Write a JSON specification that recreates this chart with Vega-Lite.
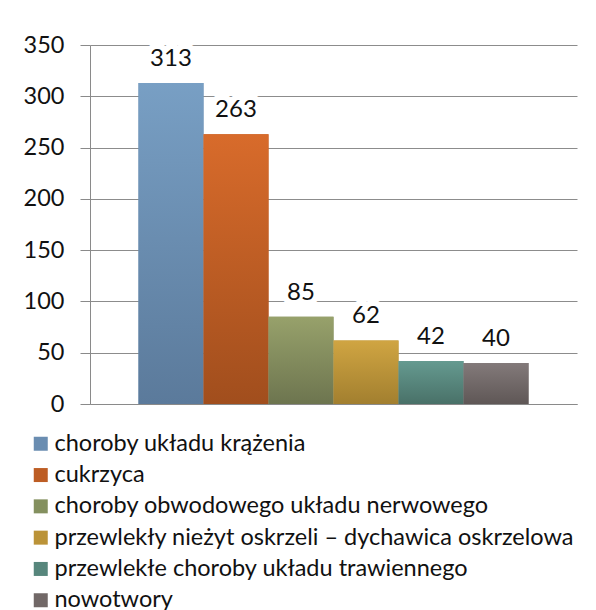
{
  "$schema": "https://vega.github.io/schema/vega-lite/v6.json",
  "width": 487,
  "height": 359,
  "autosize": {"type": "none"},
  "padding": {"left": 90, "top": 45, "right": 19, "bottom": 206},
  "background": "white",
  "config": {
    "view": {"stroke": null},
    "font": "Lato",
    "legend": {"padding": 0}
  },
  "data": {
    "values": [
      {"kategoria": "choroby układu krążenia", "wartosc": 313},
      {"kategoria": "cukrzyca", "wartosc": 263},
      {"kategoria": "choroby obwodowego układu nerwowego", "wartosc": 85},
      {"kategoria": "przewlekły nieżyt oskrzeli – dychawica oskrzelowa", "wartosc": 62},
      {"kategoria": "przewlekłe choroby układu trawiennego", "wartosc": 42},
      {"kategoria": "nowotwory", "wartosc": 40}
    ]
  },
  "encoding": {
    "x": {
      "field": "kategoria",
      "type": "nominal",
      "sort": null,
      "scale": {"paddingInner": 0, "paddingOuter": 0.746},
      "axis": {"labels": false, "ticks": false, "title": null, "domainColor": "#8a8a8a", "domainWidth": 1}
    },
    "y": {
      "field": "wartosc",
      "type": "quantitative",
      "scale": {"domain": [0, 350], "nice": false},
      "axis": {
        "values": [0, 50, 100, 150, 200, 250, 300, 350],
        "title": null,
        "grid": true,
        "gridColor": "#8c8c8c",
        "gridWidth": 1,
        "domainColor": "#8a8a8a",
        "tickColor": "#8a8a8a",
        "tickSize": 10,
        "labelPadding": 16,
        "labelFont": "Lato",
        "labelFontSize": 23.5,
        "labelColor": "#111111"
      }
    }
  },
  "layer": [
    {
      "mark": {"type": "bar"},
      "encoding": {
        "color": {
          "field": "kategoria",
          "type": "nominal",
          "sort": null,
          "scale": {
            "domain": [
              "choroby układu krążenia",
              "cukrzyca",
              "choroby obwodowego układu nerwowego",
              "przewlekły nieżyt oskrzeli – dychawica oskrzelowa",
              "przewlekłe choroby układu trawiennego",
              "nowotwory"
            ],
            "range": ["#6A8DB1", "#BD5D24", "#84905F", "#BB9338", "#57867C", "#716867"]
          },
          "legend": {
            "title": null,
            "orient": "none",
            "legendX": -61,
            "legendY": 387,
            "direction": "vertical",
            "symbolType": "square",
            "symbolSize": 196,
            "symbolStrokeWidth": 0,
            "symbolOpacity": 1,
            "labelFont": "Lato",
            "labelFontSize": 23.5,
            "labelColor": "#111111",
            "labelOffset": 2,
            "labelLimit": 700,
            "rowPadding": 6.3
          }
        }
      }
    },
    {
      "transform": [{"filter": "datum.kategoria === 'choroby układu krążenia'"}],
      "mark": {"type": "bar", "color": {"gradient": "linear", "x1": 0, "y1": 0, "x2": 0, "y2": 1, "stops": [{"offset": 0, "color": "#789FC4"}, {"offset": 1, "color": "#5B7A9B"}]}}
    },
    {
      "transform": [{"filter": "datum.kategoria === 'cukrzyca'"}],
      "mark": {"type": "bar", "color": {"gradient": "linear", "x1": 0, "y1": 0, "x2": 0, "y2": 1, "stops": [{"offset": 0, "color": "#D86B2B"}, {"offset": 1, "color": "#A14E1D"}]}}
    },
    {
      "transform": [{"filter": "datum.kategoria === 'choroby obwodowego układu nerwowego'"}],
      "mark": {"type": "bar", "color": {"gradient": "linear", "x1": 0, "y1": 0, "x2": 0, "y2": 1, "stops": [{"offset": 0, "color": "#97A16B"}, {"offset": 1, "color": "#6D754F"}]}}
    },
    {
      "transform": [{"filter": "datum.kategoria === 'przewlekły nieżyt oskrzeli – dychawica oskrzelowa'"}],
      "mark": {"type": "bar", "color": {"gradient": "linear", "x1": 0, "y1": 0, "x2": 0, "y2": 1, "stops": [{"offset": 0, "color": "#D0A542"}, {"offset": 1, "color": "#A27F2F"}]}}
    },
    {
      "transform": [{"filter": "datum.kategoria === 'przewlekłe choroby układu trawiennego'"}],
      "mark": {"type": "bar", "color": {"gradient": "linear", "x1": 0, "y1": 0, "x2": 0, "y2": 1, "stops": [{"offset": 0, "color": "#659A90"}, {"offset": 1, "color": "#497168"}]}}
    },
    {
      "transform": [{"filter": "datum.kategoria === 'nowotwory'"}],
      "mark": {"type": "bar", "color": {"gradient": "linear", "x1": 0, "y1": 0, "x2": 0, "y2": 1, "stops": [{"offset": 0, "color": "#837A7A"}, {"offset": 1, "color": "#5F5756"}]}}
    },
    {
      "mark": {"type": "text", "baseline": "alphabetic", "dy": -17, "font": "Lato", "fontSize": 24, "stroke": "white", "strokeWidth": 12, "strokeJoin": "round", "fill": "white"},
      "encoding": {"text": {"field": "wartosc", "type": "quantitative"}}
    },
    {
      "mark": {"type": "text", "baseline": "alphabetic", "dy": -17, "font": "Lato", "fontSize": 24, "fill": "#111111"},
      "encoding": {"text": {"field": "wartosc", "type": "quantitative"}}
    }
  ]
}
